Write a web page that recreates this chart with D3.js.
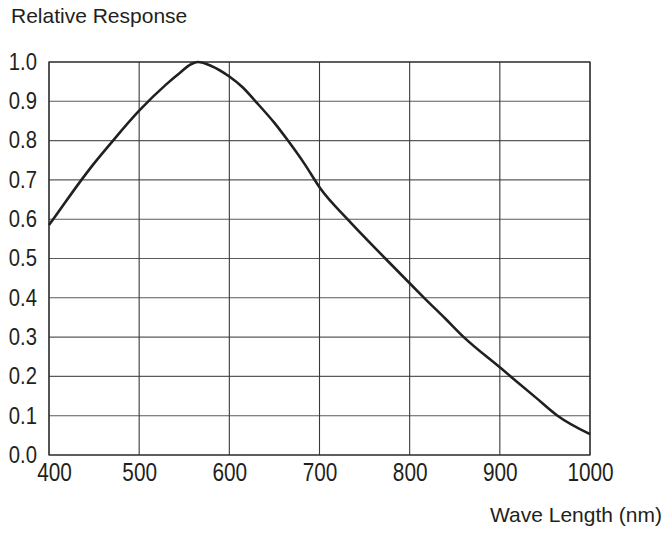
<!DOCTYPE html>
<html>

<head>

  <!-- Title of HTML Page -->
  <meta charset="utf-8">
  <title> Relative Response </title>

  <!-- Load the latest version of d3.js -->
  <script src = "https://d3js.org/d3.v7.min.js"></script>

  <style>
    body { margin: 0; background: #fff; }
    text { font-family: "Liberation Sans", Arial, Helvetica, sans-serif; fill: #231f20; }
  </style>

</head>

<body>

    <!-- Creating a div for the chart -->
    <div id = "chart"></div>

</body>

<script>

// Data
const wavelength = [400, 410, 436, 450, 471, 500, 530, 545, 558, 565, 580, 600, 615, 629, 650, 665, 683, 701,
                    731, 773, 797, 816, 840, 860, 900, 940, 964, 1000];
const response   = [0.585, 0.617, 0.70, 0.742, 0.80, 0.876, 0.943, 0.972, 0.995, 1.0, 0.99, 0.963, 0.935, 0.90,
                    0.845, 0.80, 0.742, 0.678, 0.60, 0.50, 0.444, 0.40, 0.346, 0.30, 0.223, 0.146, 0.10, 0.053];

// Tick values
const xTicks = [400, 500, 600, 700, 800, 900, 1000];
const yTicks = [0, 0.1, 0.2, 0.3, 0.4, 0.5, 0.6, 0.7, 0.8, 0.9, 1.0];

// Setting the dimensions and margins of the chart
const W = 666, H = 536;
const margin = {top: 62, right: 76, bottom: 81, left: 49},
    width = W - margin.left - margin.right,
    height = H - margin.top - margin.bottom;

const points = wavelength.map((w, i) => ({w: w, r: response[i]}));

const svg = d3.select("#chart")
  .append("svg")
    .attr("width", W)
    .attr("height", H)
  .append("g")
    .attr("transform", `translate(${margin.left},${margin.top})`);

// Scales
const x = d3.scaleLinear()
  .domain([400, 1000])
  .range([0, width]);

const y = d3.scaleLinear()
  .domain([0, 1])
  .range([height, 0]);

// Horizontal grid lines
svg.append("g")
  .selectAll("line")
  .data(yTicks)
  .join("line")
    .attr("x1", 0)
    .attr("x2", width)
    .attr("y1", d => y(d))
    .attr("y2", d => y(d))
    .attr("stroke", "#5a5a5a")
    .attr("stroke-width", 1.1);

// Vertical grid lines
svg.append("g")
  .selectAll("line")
  .data(xTicks)
  .join("line")
    .attr("x1", d => x(d))
    .attr("x2", d => x(d))
    .attr("y1", 0)
    .attr("y2", height)
    .attr("stroke", "#3a3a3a")
    .attr("stroke-width", 1.1);

// Frame
svg.append("rect")
  .attr("width", width)
  .attr("height", height)
  .attr("fill", "none")
  .attr("stroke", "#2a2a2a")
  .attr("stroke-width", 1.2);

// Building the X-axis (narrow digits, 400 nudged right)
const xAxis = svg.append("g")
  .attr("transform", `translate(0, ${height})`)
  .call(d3.axisBottom(x).tickValues(xTicks).tickSize(0).tickFormat(d3.format("d")));
xAxis.select(".domain").remove();
xAxis.selectAll("text")
  .attr("y", 8)
  .attr("dy", "0.71em")
  .style("font-size", "26px")
  .attr("transform", "scale(0.8,1)")
  .attr("x", d => d === 400 ? 5 / 0.8 : 0);

// Building the Y-axis
const yAxis = svg.append("g")
  .call(d3.axisLeft(y).tickValues(yTicks).tickSize(0).tickPadding(0).tickFormat(d3.format(".1f")));
yAxis.select(".domain").remove();
yAxis.selectAll("text")
  .style("font-size", "23px")
  .attr("transform", "scale(0.88,1)")
  .attr("x", -12 / 0.88);

// Drawing the response line
svg.append("path")
  .datum(points)
  .attr("fill", "none")
  .attr("stroke", "#231f20")
  .attr("stroke-width", 2.6)
  .attr("stroke-linejoin", "round")
  .attr("d", d3.line()
    .curve(d3.curveMonotoneX)
    .x(d => x(d.w))
    .y(d => y(d.r)));

// Axis titles
svg.append("text")
  .attr("x", 11 - margin.left)
  .attr("y", 23 - margin.top)
  .style("font-size", "21px")
  .text("Relative Response");

svg.append("text")
  .attr("text-anchor", "end")
  .attr("x", 662 - margin.left)
  .attr("y", 522 - margin.top)
  .style("font-size", "21px")
  .text("Wave Length (nm)");

</script>

</html>
